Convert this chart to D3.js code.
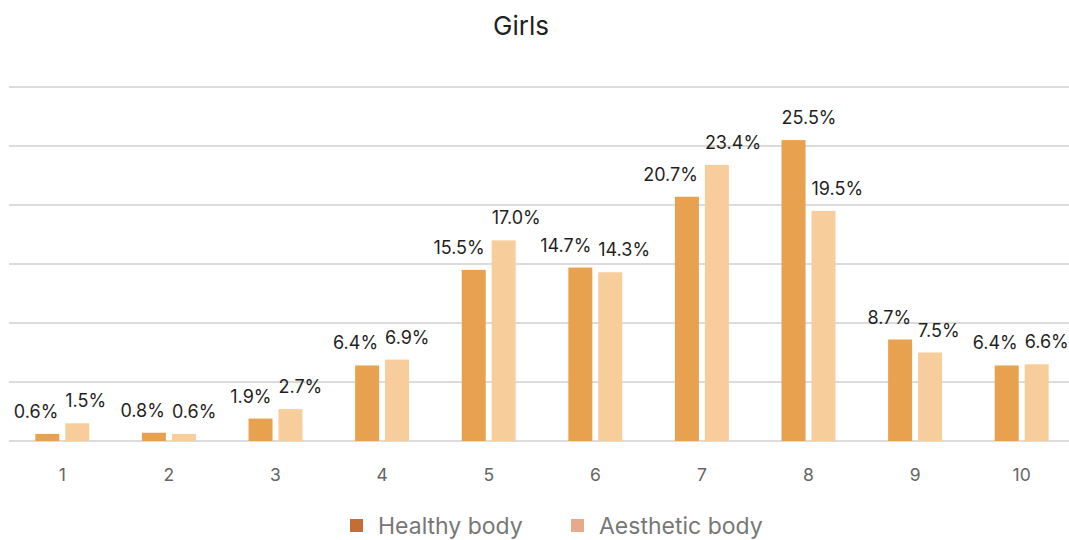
<!DOCTYPE html>
<html>
<head>
<meta charset="utf-8">
<script src="https://cdn.jsdelivr.net/npm/d3@7"></script>
<style>
html,body{margin:0;padding:0;background:#fff;}
svg{display:block;font-family:Inter, "Noto Sans", sans-serif;}
</style>
</head>
<body>
<svg id="chart" width="1069" height="540"></svg>
<script>
const categories = ["1","2","3","4","5","6","7","8","9","10"];
const seriesNames = ["Healthy body","Aesthetic body"];
const healthyValues = [0.6, 0.7, 1.9, 6.4, 14.5, 14.7, 20.7, 25.5, 8.6, 6.4];
const aestheticValues = [1.5, 0.6, 2.7, 6.9, 17.0, 14.3, 23.4, 19.5, 7.5, 6.5];
const healthyLabels = ["0.6%","0.8%","1.9%","6.4%","15.5%","14.7%","20.7%","25.5%","8.7%","6.4%"];
const aestheticLabels = ["1.5%","0.6%","2.7%","6.9%","17.0%","14.3%","23.4%","19.5%","7.5%","6.6%"];
const yTicks = [0,5,10,15,20,25,30];

const barColors = ["#E8A14E","#F7CD9C"];
const legendColors = ["#C46E36","#E8A98A"];

const svg = d3.select("#chart");
const x = d3.scaleBand().domain(categories).range([9,1075]).paddingInner(0).paddingOuter(0);
const y = d3.scaleLinear().domain([0,30]).range([441,87]);

// gridlines
svg.append("g").selectAll("line").data(yTicks).join("line")
  .attr("x1",9).attr("x2",1069)
  .attr("y1",d=>y(d)).attr("y2",d=>y(d))
  .attr("stroke","#dcdcdc").attr("stroke-width",2);

const bw = x.bandwidth();
const barW = bw*0.225, gap = bw*0.028;
const cx = c => x(c)+bw/2;

const rows = categories.map((c,i)=>({c, h:healthyValues[i], a:aestheticValues[i], hl:healthyLabels[i], al:aestheticLabels[i]}));

const g = svg.append("g");
g.selectAll("rect.h").data(rows).join("rect").attr("class","h")
  .attr("x",d=>cx(d.c)-gap-barW).attr("width",barW)
  .attr("y",d=>y(d.h)).attr("height",d=>y(0)-y(d.h))
  .attr("fill",barColors[0]);
g.selectAll("rect.a").data(rows).join("rect").attr("class","a")
  .attr("x",d=>cx(d.c)+gap).attr("width",barW)
  .attr("y",d=>y(d.a)).attr("height",d=>y(0)-y(d.a))
  .attr("fill",barColors[1]);

// labels
const labelSize = 18;
g.selectAll("text.hl").data(rows).join("text").attr("class","hl")
  .attr("x",d=> (d.h - d.a > 3) ? cx(d.c)-gap-barW : cx(d.c)-gap-1)
  .attr("text-anchor",d=> (d.h - d.a > 3) ? "start" : "end")
  .attr("y",d=>y(d.h)-16)
  .attr("font-size",labelSize).attr("fill","#1f1f1f")
  .text(d=>d.hl);
g.selectAll("text.al").data(rows).join("text").attr("class","al")
  .attr("x",d=>cx(d.c)+gap)
  .attr("text-anchor","start")
  .attr("y",d=>y(d.a)-16)
  .attr("font-size",labelSize).attr("fill","#1f1f1f")
  .text(d=>d.al);

// x axis
const xAxis = d3.axisBottom(x).tickSize(0).tickPadding(0);
const ax = svg.append("g").attr("transform","translate(0,441)").call(xAxis);
ax.select(".domain").remove();
ax.selectAll("text").attr("y",40).attr("dy",0).attr("font-size",17.5).attr("fill","#666")
  .attr("font-family","Inter, 'Noto Sans', sans-serif");

// title
svg.append("text").attr("x",521).attr("y",35).attr("text-anchor","middle")
  .attr("font-size",26).attr("fill","#222").text("Girls");

// legend
const legendX = [350,571];
const lg = svg.append("g").selectAll("g").data(seriesNames).join("g")
  .attr("transform",(d,i)=>`translate(${legendX[i]},0)`);
lg.append("rect").attr("x",0).attr("y",519).attr("width",13).attr("height",13)
  .attr("fill",(d,i)=>legendColors[i]);
lg.append("text").attr("x",28).attr("y",534).attr("font-size",23).attr("fill","#777").text(d=>d);
</script>
</body>
</html>
